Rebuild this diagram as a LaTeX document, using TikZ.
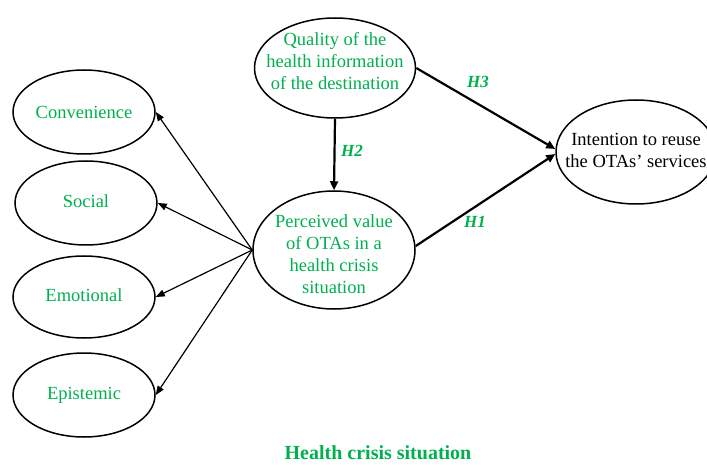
\documentclass[tikz,border=0pt]{standalone}
\usepackage{fontspec}
\setmainfont{Liberation Serif}
\usetikzlibrary{shapes.geometric,arrows.meta}
\definecolor{wgreen}{RGB}{0,176,80}
\tikzset{
  ell/.style={draw=black, line width=1.5pt, ellipse, inner sep=0pt},
  txt/.style={align=center, text=wgreen, font=\fontsize{18.5}{22}\selectfont},
  arr/.style={line width=1.2pt, -{Triangle[length=9pt,width=7pt]}},
  bigarr/.style={line width=2.2pt, -{Triangle[length=9pt,width=8pt]}},
  hlab/.style={text=wgreen, font=\fontsize{17}{20}\selectfont\bfseries\itshape}
}
\begin{document}
\begin{tikzpicture}[x=1pt,y=-1pt]
\useasboundingbox (0,0) rectangle (707,465);
\clip (0,0) rectangle (707,465);
\node[ell, minimum width=161pt, minimum height=100pt] (qual) at (335,68) {};
\node[txt] (qualt) at ([yshift=7pt]qual.center) {Quality of the\\health information\\of the destination};
\node[ell, minimum width=162pt, minimum height=118pt] (perc) at (334,250) {};
\node[txt] (perct) at ([yshift=-4pt]perc.center) {Perceived value\\of OTAs in a\\health crisis\\situation};
\node[ell, minimum width=160pt, minimum height=104pt] (intent) at (636,152) {};
\node[txt, text=black] (intentt) at ([yshift=2pt]intent.center) {Intention to reuse\\the OTAs' services};
\node[ell, minimum width=142pt, minimum height=84pt] (conv) at (84,112) {};
\node[txt] (convt) at (conv.center) {Convenience};
\node[ell, minimum width=142pt, minimum height=84pt] (soc) at (86,203) {};
\node[txt] (soct) at ([yshift=2pt]soc.center) {Social};
\node[ell, minimum width=142pt, minimum height=82pt] (emo) at (84,297) {};
\node[txt] (emot) at ([yshift=2pt]emo.center) {Emotional};
\node[ell, minimum width=142pt, minimum height=84pt] (epi) at (84,395) {};
\node[txt] (epit) at (epi.center) {Epistemic};

\draw[arr] (perc.west) -- (conv.east);
\draw[arr] (perc.west) -- (soc.east);
\draw[arr] (perc.west) -- (emo.east);
\draw[arr] (perc.west) -- (epi.east);

\draw[bigarr] (qual.south) -- (perc.north);
\draw[bigarr] (qual.east) -- ([yshift=3pt]intent.west);
\draw[bigarr] ([yshift=4pt]perc.east) -- ([yshift=-2pt]intent.west);

\node[hlab] (h2) at (352,151) {H2};
\node[hlab] (h3) at (478,82) {H3};
\node[hlab] (h1) at (475,222) {H1};

\node[text=wgreen, font=\fontsize{20}{22}\selectfont\bfseries] (cap) at (378,453) {Health crisis situation};
\end{tikzpicture}
\end{document}
